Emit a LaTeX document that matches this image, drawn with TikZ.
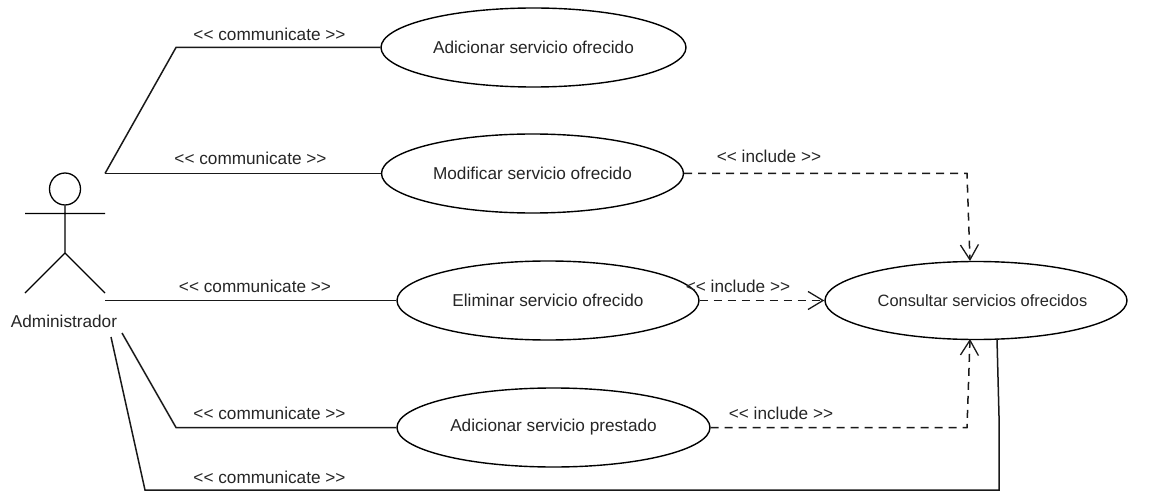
\documentclass[tikz,border=0pt]{standalone}
\usepackage{fontspec}
\setmainfont{Liberation Sans}
\usetikzlibrary{arrows.meta,shapes.geometric}
\newcommand{\opn}{<\kern0pt<}
\newcommand{\cls}{>\kern0pt>}
\tikzset{
  usecase/.style={draw=black,line width=1.4pt,fill=white,ellipse,minimum width=#1,minimum height=79,inner sep=0pt,font=\fontsize{17.2}{19}\selectfont,text=black!85},
  lbl/.style={inner sep=0pt,font=\fontsize{17.2}{19}\selectfont,text=black!85},
  assoc/.style={draw=black!90,line width=1.5pt},
  incl/.style={draw=black!90,line width=1.5pt,dash pattern=on 8pt off 6pt},
  head/.style={-{Straight Barb[length=15pt,width=18pt,line width=1.3pt]}},
  stick/.style={draw=black,line width=1.3pt}
}
\begin{document}
\begin{tikzpicture}[x=1pt,y=-1pt]
\useasboundingbox (0,0) rectangle (1160,492);
\fill[white] (0,0) rectangle (1160,492);
% use cases
\node[usecase=305] (a) at (533.5,47.5) {Adicionar servicio ofrecido};
\node[usecase=302] (m) at (532.5,173.5) {Modificar servicio ofrecido};
\node[usecase=302] (e) at (548,300.5) {Eliminar servicio ofrecido};
\node[usecase=313] (p) at (553.5,427.5) {Adicionar servicio prestado};
\node[usecase=302,minimum height=78,font=\fontsize{16.4}{19}\selectfont] (c) at (976,300.5) {\makebox[0pt]{\hspace*{13pt}Consultar servicios ofrecidos}};
% actor
\node[draw=black,line width=1.3pt,ellipse,minimum width=31,minimum height=32,inner sep=0pt] (headn) at (65,189) {};
\coordinate (hip) at (65,253);
\coordinate (armL) at (25,213.5);
\coordinate (armR) at (105,213.5);
\coordinate (legL) at (25,293);
\coordinate (legR) at (105,293);
\draw[stick] (headn.south) -- (hip) (armL) -- (armR) (legL) -- (hip) -- (legR);
\node[lbl] (actor) at (64,321) {Administrador};
% free ends
\coordinate (s1) at (105,173.5);
\coordinate (s3) at (105,300.5);
\coordinate (s4) at (122,333);
\coordinate (s5) at (111,337);
\coordinate (b1) at (176,47.5);
\coordinate (b4) at (176,427.5);
\coordinate (b5) at (145,490);
\coordinate (b6) at (999,490);
\coordinate (b7) at (999,416);
\coordinate (top) at (970,261);
\coordinate (bot) at (970,339);
\coordinate (botS) at (997,339);
% associations
\draw[assoc] (s1) -- (b1) -- (a.west);
\draw[assoc] (s1) -- (m.west);
\draw[assoc] (s3) -- (e.west);
\draw[assoc] (s4) -- (b4) -- (p.west);
\draw[assoc] (s5) -- (b5) -- (b6) -- (b7) -- (botS);
% includes
\draw[incl,head] (m.east) -- (967,173.5) -- (top);
\draw[incl,head] (e.east) -- (c.west);
\draw[incl,head] (p.east) -- (967,427.5) -- (bot);
% labels
\node[lbl] (l1) at (269.5,34) {\opn{} communicate \cls};
\node[lbl] (l2) at (250.5,158) {\opn{} communicate \cls};
\node[lbl] (l3) at (255,286) {\opn{} communicate \cls};
\node[lbl] (l4) at (269.5,413) {\opn{} communicate \cls};
\node[lbl] (l5) at (269.5,477) {\opn{} communicate \cls};
\node[lbl] (i1) at (769,156) {\opn{} include \cls};
\node[lbl] (i2) at (738,286) {\opn{} include \cls};
\node[lbl] (i3) at (781,413) {\opn{} include \cls};
\end{tikzpicture}
\end{document}
